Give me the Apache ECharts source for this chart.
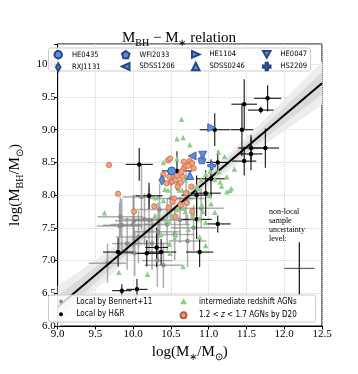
<!DOCTYPE html>
<html>
<head>
<meta charset="utf-8">
<script src="https://cdn.jsdelivr.net/npm/echarts@6/dist/echarts.min.js"></script>
<style>
html, body { margin: 0; padding: 0; background: #fff; }
#chart { width: 358px; height: 374px; }
</style>
</head>
<body>
<div id="chart"></div>
<script>
// axis ticks
const xTicks = [9.0, 9.5, 10.0, 10.5, 11.0, 11.5, 12.0, 12.5]
const yTicks = [6.0, 6.5, 7.0, 7.5, 8.0, 8.5, 9.0, 9.5, 10.0]

// best fit line and its scatter band
const fitLine = [[9.0, 6.29], [12.5, 9.71]]
const bandX = [9.0, 9.5, 10.0, 10.5, 11.0, 11.5, 12.0, 12.5]
const bandOuterLow = [5.97, 6.55, 7.11, 7.64, 8.14, 8.58, 8.98, 9.38]
const bandOuterHigh = [6.61, 7.01, 7.43, 7.88, 8.36, 8.88, 9.46, 10.04]
const bandInnerLow = [6.12, 6.66, 7.19, 7.70, 8.19, 8.65, 9.10, 9.54]
const bandInnerHigh = [6.46, 6.90, 7.35, 7.82, 8.31, 8.81, 9.34, 9.88]

// local sample, Bennert+11 (grey) : [x, y] and [xerr, yerr]
const bennertPts = [
  [9.66, 6.96], [9.82, 7.53], [9.85, 7.54], [9.83, 7.67], [9.92, 7.26],
  [10.00, 7.55], [10.01, 7.61], [10.02, 7.11], [10.07, 7.36], [10.11, 7.97],
  [10.15, 7.63], [10.21, 7.62], [10.25, 7.26], [10.32, 7.00], [10.33, 7.44],
  [10.40, 6.93], [10.45, 7.55], [10.55, 7.40], [10.62, 7.62], [10.72, 7.30],
  [10.80, 7.50], [10.35, 7.78], [10.50, 7.95], [10.70, 7.95], [10.90, 7.80]
]
const bennertErr = [
  [0.25, 0.30], [0.30, 0.35], [0.25, 0.40], [0.30, 0.30], [0.20, 0.40],
  [0.30, 0.45], [0.25, 0.40], [0.25, 0.35], [0.30, 0.40], [0.25, 0.50],
  [0.30, 0.40], [0.20, 0.50], [0.25, 0.40], [0.20, 0.40], [0.30, 0.45],
  [0.25, 0.35], [0.30, 0.40], [0.25, 0.40], [0.30, 0.35], [0.25, 0.40],
  [0.30, 0.35], [0.30, 0.40], [0.30, 0.35], [0.25, 0.40], [0.30, 0.30]
]

// local sample, H&R (black)
const hrPts = [
  [11.47, 9.39], [11.78, 9.48], [11.69, 9.30], [11.08, 9.00], [11.44, 9.00],
  [11.56, 8.72], [11.75, 8.72], [11.56, 8.63], [11.47, 8.52], [11.12, 8.50],
  [11.03, 8.25], [10.96, 8.03], [10.84, 8.00], [10.08, 8.47], [10.58, 8.37],
  [10.21, 7.99], [9.80, 7.13], [9.85, 6.54], [10.05, 6.56], [10.18, 7.11],
  [10.31, 7.20], [10.37, 7.13], [10.84, 7.63], [11.12, 7.56], [10.88, 7.13]
]
const hrErr = [
  [0.17, 0.38], [0.18, 0.20], [0.17, 0.05], [0.20, 0.25], [0.15, 0.40],
  [0.17, 0.20], [0.18, 0.30], [0.15, 0.25], [0.16, 0.22], [0.15, 0.18],
  [0.20, 0.30], [0.20, 0.35], [0.20, 0.30], [0.18, 0.25], [0.20, 0.30],
  [0.18, 0.20], [0.20, 0.22], [0.13, 0.10], [0.14, 0.16], [0.20, 0.20],
  [0.15, 0.30], [0.20, 0.20], [0.20, 0.30], [0.17, 0.13], [0.18, 0.23]
]

// intermediate redshift AGNs
const interPts = [
  [10.64, 9.16], [10.58, 8.86], [10.66, 8.88], [10.75, 8.77], [10.58, 8.56],
  [10.69, 8.23], [10.61, 8.08], [11.13, 8.66], [11.21, 8.59], [11.34, 8.40],
  [11.24, 8.28], [11.17, 8.14], [11.28, 8.07], [11.02, 8.37], [11.13, 8.36],
  [10.90, 8.23], [10.96, 8.32], [11.08, 8.24], [10.86, 8.10], [11.01, 8.00],
  [10.40, 8.50], [10.42, 8.09], [10.40, 7.92], [10.59, 8.20], [10.65, 8.08],
  [10.73, 8.05], [10.84, 8.13], [11.15, 8.20], [11.24, 8.05], [10.50, 7.70],
  [10.67, 7.80], [10.78, 7.67], [10.92, 7.75], [11.03, 7.87], [10.91, 7.85],
  [11.08, 7.74], [10.88, 7.64], [10.96, 7.58], [10.73, 7.48], [10.88, 7.36],
  [10.96, 7.23], [10.55, 7.34], [10.49, 7.11], [10.37, 7.40], [10.66, 6.91],
  [10.79, 7.72], [10.58, 7.78], [10.48, 7.58], [9.62, 7.73], [9.81, 6.82],
  [10.19, 6.79], [10.30, 7.96], [10.46, 8.08], [10.29, 7.69], [10.44, 7.62],
  [10.54, 7.66], [10.69, 7.75], [10.56, 7.39], [10.48, 7.25], [11.30, 8.10]
]

// 1.2 < z < 1.7 AGNs by D20
const d20Pts = [
  [9.68, 8.46], [9.80, 8.02], [10.46, 8.53], [10.49, 8.56], [10.44, 8.18],
  [10.50, 8.20], [10.54, 8.26], [10.58, 8.29], [10.65, 8.28], [10.67, 8.41],
  [10.70, 8.45], [10.75, 8.52], [10.78, 8.49], [10.80, 8.41], [10.77, 8.13],
  [10.70, 8.03], [10.54, 7.95], [10.63, 7.85], [10.28, 7.83], [10.47, 7.81],
  [10.49, 8.36], [10.64, 8.36], [10.40, 8.31], [10.48, 8.28], [10.52, 8.21],
  [10.56, 8.23], [10.63, 8.19], [10.59, 8.13], [10.78, 7.75], [10.56, 7.67],
  [10.71, 7.88], [10.52, 7.90], [10.01, 7.75], [10.67, 8.51], [10.73, 8.45]
]

// lensed AGNs
const lensNames = ['HE0435', 'RXJ1131', 'WFI2033', 'SDSS1206', 'HE1104', 'SDSS0246', 'HE0047', 'HS2209']
const lensPts = [
  [10.51, 8.37], [10.38, 8.23], [10.91, 8.54], [10.78, 8.60],
  [11.04, 9.03], [10.75, 8.30], [10.92, 8.61], [11.04, 8.45]
]

// non-local sample uncertainty cross: [x, y, xerr, yerr]
const uncertainty = [[12.2, 6.88, 0.2, 0.4]]

const serif = "'Liberation Serif', 'Times New Roman', serif"
const sans = "'Liberation Sans Narrow', 'DejaVu Sans Condensed', 'Liberation Sans', sans-serif"
const lensColor = '#5b8fe3'
const lensBorder = '#27467f'

const lensSymbols = [
  'circle',
  'path://M0,-10 L6,0 L0,10 L-6,0 Z',
  'path://M0,-10 L9.51,-3.09 L5.88,8.09 L-5.88,8.09 L-9.51,-3.09 Z',
  'path://M-10,0 L10,-9 L10,9 Z',
  'path://M10,0 L-10,-9 L-10,9 Z',
  'triangle',
  'path://M-10,-9 L10,-9 L0,9 Z',
  'path://M-3,-10 L3,-10 L3,-3 L10,-3 L10,3 L3,3 L3,10 L-3,10 L-3,3 L-10,3 L-10,-3 L-3,-3 Z'
]
const lensSizes = [8, [6, 10], 8, 8, 8, 8, 8, 8]

// legend icons drawn inside a fixed 20x20 box so the marker keeps its own size
const dotIcon = r => 'path://M-10,-10 M10,10 M' + (-r) + ',0 A' + r + ',' + r + ' 0 1,1 ' + r + ',0 A' + r + ',' + r + ' 0 1,1 ' + (-r) + ',0 Z'
const triIcon = 'path://M-10,-10 M10,10 M0,-7 L7.5,6 L-7.5,6 Z'

function errorBars(color, width) {
  return function (params, api) {
    const x = api.value(0)
    const y = api.value(1)
    const xe = api.value(2)
    const ye = api.value(3)
    const h0 = api.coord([x - xe, y])
    const h1 = api.coord([x + xe, y])
    const v0 = api.coord([x, y - ye])
    const v1 = api.coord([x, y + ye])
    return {
      type: 'group',
      children: [
        { type: 'line', shape: { x1: h0[0], y1: h0[1], x2: h1[0], y2: h1[1] }, style: { stroke: color, lineWidth: width } },
        { type: 'line', shape: { x1: v0[0], y1: v0[1], x2: v1[0], y2: v1[1] }, style: { stroke: color, lineWidth: width } }
      ]
    }
  }
}

function bandPolygon(low, high, color) {
  return function (params, api) {
    const pts = []
    for (let i = 0; i < bandX.length; i++) pts.push(api.coord([bandX[i], low[i]]))
    for (let i = bandX.length - 1; i >= 0; i--) pts.push(api.coord([bandX[i], high[i]]))
    return {
      type: 'polygon',
      shape: { points: pts },
      style: { fill: color }
    }
  }
}

const withErr = (pts, err) => pts.map((p, i) => [p[0], p[1], err[i][0], err[i][1]])

const richSub = {
  m: { fontFamily: serif, fontSize: 15, fontWeight: 'normal', color: '#000' },
  s: { fontFamily: serif, fontSize: 10, fontWeight: 'normal', color: '#000', verticalAlign: 'bottom', lineHeight: 20 }
}

const myChart = echarts.init(document.getElementById('chart'), null, { renderer: 'canvas' })

const series = [
  {
    type: 'custom', silent: true, z: 1, clip: true,
    data: [[9, 6]], encode: { x: 0, y: 1 },
    renderItem: bandPolygon(bandOuterLow, bandOuterHigh, '#ededed')
  },
  {
    type: 'custom', silent: true, z: 1, clip: true,
    data: [[9, 6]], encode: { x: 0, y: 1 },
    renderItem: bandPolygon(bandInnerLow, bandInnerHigh, '#dadada')
  },
  {
    type: 'custom', silent: true, z: 2, clip: true,
    data: withErr(bennertPts, bennertErr), encode: { x: 0, y: 1 },
    renderItem: errorBars('rgba(120,120,120,0.6)', 1.5)
  },
  {
    type: 'custom', silent: true, z: 2, clip: true,
    data: withErr(hrPts, hrErr), encode: { x: 0, y: 1 },
    renderItem: errorBars('#111', 1.1)
  },
  {
    name: 'Local by Bennert+11', type: 'scatter', z: 3,
    data: bennertPts, symbol: 'circle', symbolSize: 4.5,
    itemStyle: { color: '#8c8c8c', opacity: 1 }
  },
  {
    name: 'Local by H&R', type: 'scatter', z: 3,
    data: hrPts, symbol: 'circle', symbolSize: 4.5,
    itemStyle: { color: '#000', opacity: 1 }
  },
  {
    type: 'line', z: 4, data: fitLine, symbol: 'none', silent: true,
    lineStyle: { color: '#000', width: 2 }
  },
  {
    name: 'intermediate redshift AGNs', type: 'scatter', z: 5,
    data: interPts, symbol: 'triangle', symbolSize: 5.5,
    itemStyle: { color: '#8fcb8f', opacity: 1 }
  },
  {
    name: '1.2 < z < 1.7 AGNs by D20', type: 'scatter', z: 6,
    data: d20Pts, symbol: 'circle', symbolSize: 5.5,
    itemStyle: { color: '#f3a27e', borderColor: '#b8593a', borderWidth: 0.6, opacity: 1 }
  },
  {
    type: 'custom', silent: true, z: 6,
    data: uncertainty, encode: { x: 0, y: 1 },
    renderItem: function (params, api) {
      const x = api.value(0), y = api.value(1), xe = api.value(2), ye = api.value(3)
      const h0 = api.coord([x - xe, y]), h1 = api.coord([x + xe, y])
      const v0 = api.coord([x, y - ye]), v1 = api.coord([x, y + ye])
      return {
        type: 'group',
        children: [
          { type: 'line', shape: { x1: h0[0], y1: h0[1], x2: h1[0], y2: h1[1] }, style: { stroke: '#666', lineWidth: 1.3 } },
          { type: 'line', shape: { x1: v0[0], y1: v0[1], x2: v1[0], y2: v1[1] }, style: { stroke: '#222', lineWidth: 1.3 } }
        ]
      }
    }
  }
]

lensNames.forEach((name, i) => {
  series.push({
    name: name, type: 'scatter', z: 7,
    data: [lensPts[i]], symbol: lensSymbols[i], symbolSize: lensSizes[i],
    itemStyle: { color: lensColor, borderColor: lensBorder, borderWidth: 0.7, opacity: 1 }
  })
})

function lensLegend(names, left) {
  return {
    data: names, orient: 'vertical', left: left, top: 50, z: 10,
    padding: 0, itemGap: 3, itemWidth: 7.5, itemHeight: 7.5,
    selectedMode: false,
    textStyle: { fontFamily: sans, fontSize: 7.5, color: '#000', padding: [0, 0, 0, 5] }
  }
}

function sampleLegend(items, left) {
  return {
    data: items, orient: 'vertical', left: left, top: 297, z: 10,
    padding: 0, itemGap: 3.8, itemWidth: 9, itemHeight: 9,
    selectedMode: false,
    formatter: function (n) {
      return n === '1.2 < z < 1.7 AGNs by D20' ? '1.2 < {i|z} < 1.7 AGNs by D20' : n
    },
    textStyle: {
      fontFamily: sans, fontSize: 8, color: '#000', padding: [0, 0, 0, 6],
      rich: { i: { fontFamily: sans, fontSize: 8, fontStyle: 'italic', color: '#000' } }
    }
  }
}

const option = {
  animation: false,
  title: {
    text: '{m|M}{s|BH}{m| − M}{s|∗}{m| relation}',
    left: 'center', top: 23,
    textStyle: { fontWeight: 'normal', rich: richSub }
  },
  grid: {
    left: 44, right: 36, top: 44, bottom: 48,
    show: true, borderColor: '#000', borderWidth: 1, backgroundColor: 'transparent'
  },
  graphic: [
    {
      type: 'rect', z: 8, silent: true,
      shape: { x: 48.5, y: 48, width: 262, height: 23, r: 2 },
      style: { fill: 'rgba(255,255,255,0.8)', stroke: '#cccccc', lineWidth: 1 }
    },
    {
      type: 'rect', z: 8, silent: true,
      shape: { x: 48.5, y: 295, width: 267, height: 27, r: 2 },
      style: { fill: 'rgba(255,255,255,0.8)', stroke: '#cccccc', lineWidth: 1 }
    },
    {
      type: 'text', z: 9, silent: true, left: 269, top: 207,
      style: {
        text: 'non-local\nsample\nuncertainty\nlevel:',
        fontFamily: serif, fontSize: 8, lineHeight: 9, fill: '#000'
      }
    }
  ],
  legend: [
    lensLegend(['HE0435', 'RXJ1131'], 53.5),
    lensLegend(['WFI2033', 'SDSS1206'], 121),
    lensLegend(['HE1104', 'SDSS0246'], 191),
    lensLegend(['HE0047', 'HS2209'], 262),
    sampleLegend([
      { name: 'Local by Bennert+11', icon: dotIcon(4.4) },
      { name: 'Local by H&R', icon: dotIcon(4.4) }
    ], 56.5),
    sampleLegend([
      { name: 'intermediate redshift AGNs', icon: triIcon },
      { name: '1.2 < z < 1.7 AGNs by D20', icon: dotIcon(6.6) }
    ], 178)
  ],
  xAxis: {
    type: 'value', min: xTicks[0], max: xTicks[xTicks.length - 1], interval: 0.5,
    name: '{m|log(M}{s|∗}{m|/M}{s|⊙}{m|)}',
    nameLocation: 'middle', nameGap: 14,
    nameTextStyle: { rich: richSub },
    axisLine: { onZero: false, lineStyle: { color: '#000', width: 1 } },
    axisTick: { length: 3.5, lineStyle: { color: '#000' } },
    axisLabel: {
      fontFamily: serif, fontSize: 11, color: '#000', margin: 3,
      formatter: v => v.toFixed(1)
    },
    splitLine: { show: true, lineStyle: { color: '#d4d4d4', type: 'dotted', width: 1 } }
  },
  yAxis: {
    type: 'value', min: yTicks[0], max: 10.31, interval: 0.5,
    name: '{m|log(M}{s|BH}{m|/M}{s|⊙}{m|)}',
    nameLocation: 'middle', nameGap: 23, nameRotate: 90,
    nameTextStyle: { rich: richSub },
    axisLine: { onZero: false, lineStyle: { color: '#000', width: 1 } },
    axisTick: { length: 3.5, lineStyle: { color: '#000' } },
    axisLabel: {
      fontFamily: serif, fontSize: 11, color: '#000', margin: 2,
      formatter: v => (yTicks.some(t => Math.abs(t - v) < 1e-6) ? v.toFixed(1) : '')
    },
    splitLine: { show: true, lineStyle: { color: '#d4d4d4', type: 'dotted', width: 1 } }
  },
  series: series
}

myChart.setOption(option)
</script>
</body>
</html>
